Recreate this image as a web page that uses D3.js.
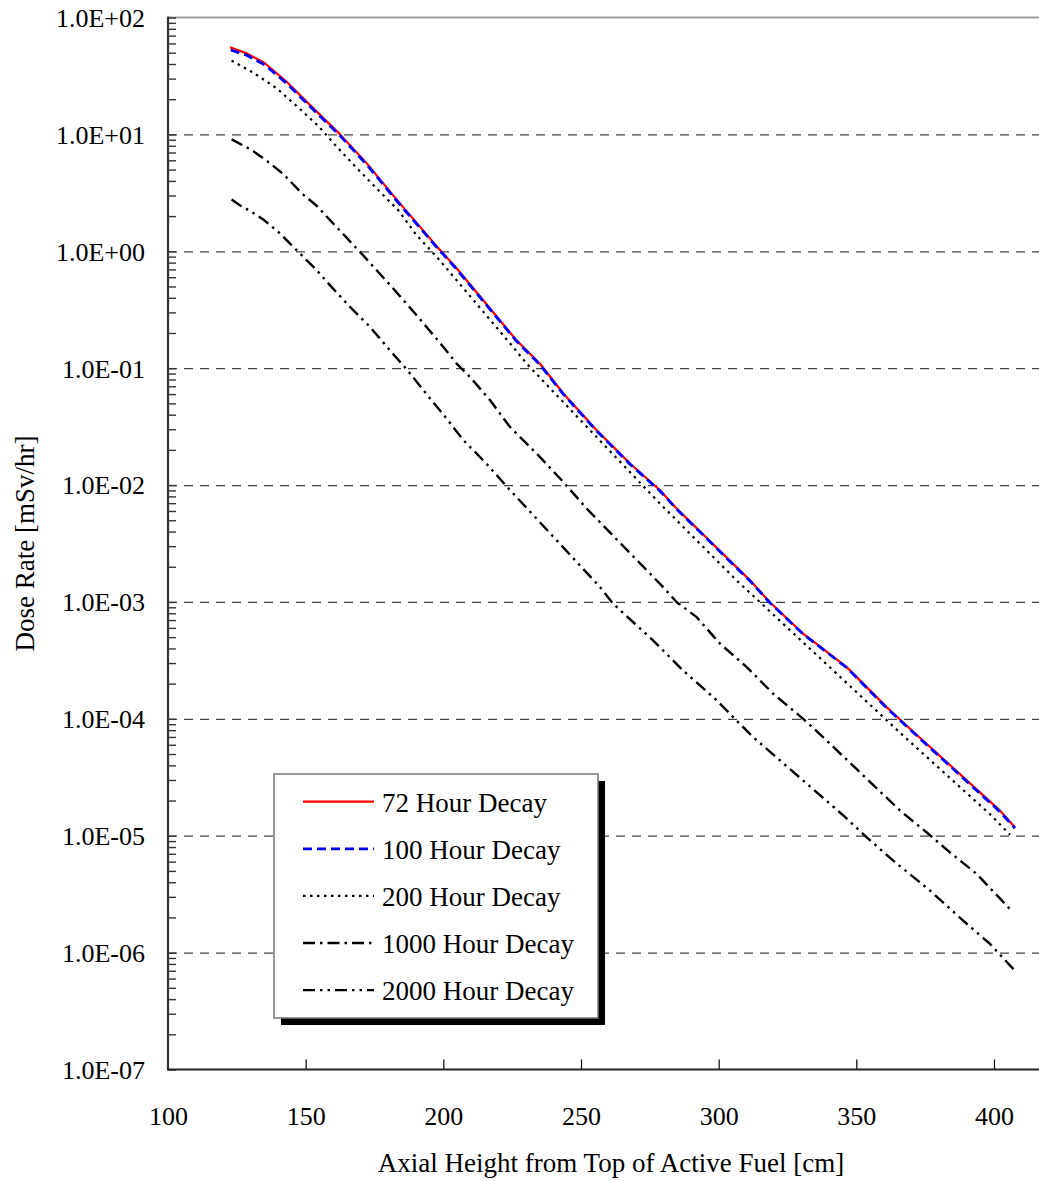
<!DOCTYPE html>
<html>
<head>
<meta charset="utf-8">
<script src="https://cdn.jsdelivr.net/npm/d3@7"></script>
<style>
  html, body { margin: 0; padding: 0; background: #fff; }
  svg { display: block; }
  text { font-family: "Liberation Serif", "Times New Roman", serif; fill: #000; }
</style>
</head>
<body>
<svg id="chart" width="1039" height="1181"></svg>
<script>
// ---------- data ----------
const seriesNames = ["72 Hour Decay", "100 Hour Decay", "200 Hour Decay", "1000 Hour Decay", "2000 Hour Decay"];

const x72 = [122.5, 128.6, 135.2, 143.1, 151.6, 162.5, 172.2, 183.2, 197.8, 204.9, 226.6, 235.1, 243.6, 255.7, 267.9, 278.7, 284.8, 311.4, 318.6, 330.7, 346.5, 361, 368.9, 402.2, 407.6];
const y72 = [55.6, 49.3, 40.6, 28.2, 17.8, 10.0, 5.65, 2.74, 1.09, 0.713, 0.173, 0.109, 0.0607, 0.0294, 0.0152, 0.00902, 0.00628, 0.00153, 0.000995, 0.000535, 0.000277, 0.000126, 8.47e-5, 1.64e-5, 1.18e-5];

const x100 = [122.8, 128.6, 135.2, 143.1, 151.6, 162.5, 172.2, 183.2, 197.8, 204.9, 226.6, 235.1, 243.6, 255.7, 267.9, 278.7, 284.8, 311.4, 318.6, 330.7, 346.5, 361, 368.9, 402.2, 407.6];
const y100 = [52.7, 47.5, 39.2, 27.3, 17.3, 9.75, 5.50, 2.68, 1.07, 0.700, 0.170, 0.107, 0.0598, 0.0290, 0.0150, 0.00890, 0.00620, 0.00151, 0.000985, 0.000530, 0.000274, 0.000124, 8.35e-5, 1.60e-5, 1.16e-5];

const x200 = [123.1, 131, 139.5, 147.3, 154.6, 161.3, 168.7, 176.4, 183.6, 190.3, 197.8, 201.2, 224.8, 230.3, 278.7, 306.5, 367, 398.5, 405.8];
const y200 = [42.7, 33.7, 24.8, 17.0, 11.8, 7.83, 5.12, 3.33, 2.25, 1.37, 0.885, 0.713, 0.157, 0.109, 0.00693, 0.00153, 7.19e-5, 1.53e-5, 1.02e-5];

const x1000 = [123.1, 130.4, 136.4, 141.9, 148.6, 154.0, 158.8, 164.3, 170.3, 181.8, 190.3, 200, 204.9, 209.7, 217, 224.2, 233.9, 243.6, 252.1, 279.3, 284.8, 292, 300.5, 310.2, 319.8, 330.7, 338, 365.9, 375.5, 384, 393.7, 405.8];
const y1000 = [9.06, 7.35, 5.82, 4.57, 3.13, 2.45, 1.85, 1.35, 0.955, 0.480, 0.284, 0.152, 0.109, 0.0841, 0.0531, 0.0314, 0.0186, 0.0106, 0.00628, 0.00138, 0.000995, 0.000741, 0.000439, 0.000277, 0.000164, 0.0001, 6.95e-5, 1.64e-5, 1.07e-5, 7.21e-6, 4.71e-6, 2.36e-6];

const x2000 = [123.1, 126.1, 130.4, 134.6, 140.7, 145.5, 154, 158.8, 166.1, 173.4, 180.6, 186.7, 195.2, 200, 207.3, 215.7, 223.2, 230.5, 256.9, 261.7, 276.2, 287.1, 299.3, 306.5, 312.6, 345.3, 353.8, 363.4, 376.8, 388.9, 398.5, 407.6];
const y2000 = [2.77, 2.48, 2.17, 1.87, 1.42, 1.09, 0.689, 0.513, 0.334, 0.225, 0.142, 0.0977, 0.0550, 0.0402, 0.0242, 0.0152, 0.00962, 0.00628, 0.00134, 0.000964, 0.000468, 0.000259, 0.000144, 9.66e-5, 6.95e-5, 1.49e-5, 9.68e-6, 6.12e-6, 3.39e-6, 1.87e-6, 1.19e-6, 7.0e-7];

const xTickValues = [100, 150, 200, 250, 300, 350, 400];
const yDecades = [1e2, 1e1, 1e0, 1e-1, 1e-2, 1e-3, 1e-4, 1e-5, 1e-6, 1e-7];

const xTitle = "Axial Height from Top of Active Fuel [cm]";
const yTitle = "Dose Rate [mSv/hr]";

(function () {
// ---------- styles ----------
const styles = [
  { color: "#ff0000", width: 2.2, dash: null },
  { color: "#0000ff", width: 2.8, dash: "9,5" },
  { color: "#000000", width: 2.2, dash: "2.5,4.5" },
  { color: "#000000", width: 2.4, dash: "12,5,2.5,5" },
  { color: "#000000", width: 2.4, dash: "12,5,2.5,5,2.5,5" }
];

// ---------- layout ----------
const pL = 168, pT = 17.5, pB = 1069.5, pR = 1039;
const pxPerCm = 2.7533;
const svg = d3.select("#chart");

const x = d3.scaleLinear().domain([100, 420]).range([pL, pL + 320 * pxPerCm]);
const y = d3.scaleLog().domain([1e-7, 1e2]).range([pB, pT]);

// grid lines (dashed) at decades
svg.append("g")
  .attr("transform", `translate(${pL},0)`)
  .call(d3.axisRight(y).tickValues(yDecades.slice(1, -1)).tickSize(pR - pL).tickFormat(""))
  .call(g => g.select(".domain").remove())
  .call(g => g.selectAll("line").attr("stroke", "#444").attr("stroke-width", 1.3).attr("stroke-dasharray", "9,7"));

// top border
svg.append("line")
  .attr("x1", pL).attr("x2", pR).attr("y1", y(1e2)).attr("y2", y(1e2))
  .attr("stroke", "#a0a0a0").attr("stroke-width", 2);

// series
const series = [
  { xs: x1000, ys: y1000, st: styles[3] },
  { xs: x2000, ys: y2000, st: styles[4] },
  { xs: x200, ys: y200, st: styles[2] },
  { xs: x72, ys: y72, st: styles[0] },
  { xs: x100, ys: y100, st: styles[1] }
];
const line = d3.line().x(d => x(d[0])).y(d => y(d[1]));
series.forEach(s => {
  svg.append("path")
    .datum(d3.zip(s.xs, s.ys))
    .attr("d", line)
    .attr("fill", "none")
    .attr("stroke", s.st.color)
    .attr("stroke-width", s.st.width)
    .attr("stroke-dasharray", s.st.dash)
    .attr("stroke-linejoin", "round");
});

// y minor + major ticks (inward)
const yMinor = [];
for (let e = -7; e < 2; e++) for (let m = 1; m <= 9; m++) yMinor.push(m * Math.pow(10, e));
yMinor.push(1e2);
svg.append("g")
  .attr("transform", `translate(${pL},0)`)
  .call(d3.axisRight(y).tickValues(yMinor).tickSize(8).tickFormat(""))
  .call(g => g.select(".domain").remove())
  .call(g => g.selectAll("line").attr("stroke", "#333").attr("stroke-width", 1.4));

// y labels
const fmt = v => {
  const e = Math.round(Math.log10(v));
  const sign = e < 0 ? "-" : "+";
  return "1.0E" + sign + String(Math.abs(e)).padStart(2, "0");
};
svg.append("g")
  .attr("transform", `translate(${pL},0)`)
  .call(d3.axisLeft(y).tickValues(yDecades).tickSize(0).tickPadding(23).tickFormat(fmt))
  .call(g => g.select(".domain").remove())
  .call(g => g.selectAll("text").attr("font-size", 26).attr("font-family", "Liberation Serif").attr("dy", "0.34em"));

// left axis line
svg.append("line")
  .attr("x1", pL).attr("x2", pL).attr("y1", pT - 1).attr("y2", pB)
  .attr("stroke", "#333").attr("stroke-width", 2.2);

// x axis ticks (inward)
svg.append("g")
  .attr("transform", `translate(0,${pB})`)
  .call(d3.axisTop(x).tickValues(xTickValues.slice(1)).tickSize(10).tickFormat(""))
  .call(g => g.select(".domain").remove())
  .call(g => g.selectAll("line").attr("stroke", "#000").attr("stroke-width", 1.2));

// x labels
svg.append("g")
  .attr("transform", `translate(0,${pB})`)
  .call(d3.axisBottom(x).tickValues(xTickValues).tickSize(0).tickPadding(0).tickFormat(d3.format("d")))
  .call(g => g.select(".domain").remove())
  .call(g => g.selectAll("text").attr("font-size", 26).attr("font-family", "Liberation Serif").attr("dy", null).attr("y", 1125 - pB));

// x axis line
svg.append("line")
  .attr("x1", pL - 1).attr("x2", pR).attr("y1", pB).attr("y2", pB)
  .attr("stroke", "#222").attr("stroke-width", 1.8);

// axis titles
svg.append("text")
  .attr("x", (375 + 847) / 2).attr("y", 1172)
  .attr("text-anchor", "middle").attr("font-size", 27)
  .text(xTitle);
svg.append("text")
  .attr("transform", `translate(34,${(pT + pB) / 2}) rotate(-90)`)
  .attr("text-anchor", "middle").attr("font-size", 27)
  .text(yTitle);

// legend
const lg = { x: 274, y: 774, w: 324, h: 244, rowH: 47.1, firstRow: 801.7 };
svg.append("rect").attr("x", lg.x + 7).attr("y", lg.y + 7).attr("width", lg.w).attr("height", lg.h).attr("fill", "#000");
svg.append("rect").attr("x", lg.x).attr("y", lg.y).attr("width", lg.w).attr("height", lg.h)
  .attr("fill", "#fff").attr("stroke", "#777").attr("stroke-width", 1.5);
seriesNames.forEach((nm, i) => {
  const ry = lg.firstRow + i * lg.rowH;
  const st = styles[i];
  svg.append("line").attr("x1", 303).attr("x2", 374).attr("y1", ry).attr("y2", ry)
    .attr("stroke", st.color).attr("stroke-width", st.width).attr("stroke-dasharray", st.dash);
  svg.append("text").attr("x", 382).attr("y", ry + 10).attr("font-size", 27).text(nm);
});
})();
</script>
</body>
</html>
